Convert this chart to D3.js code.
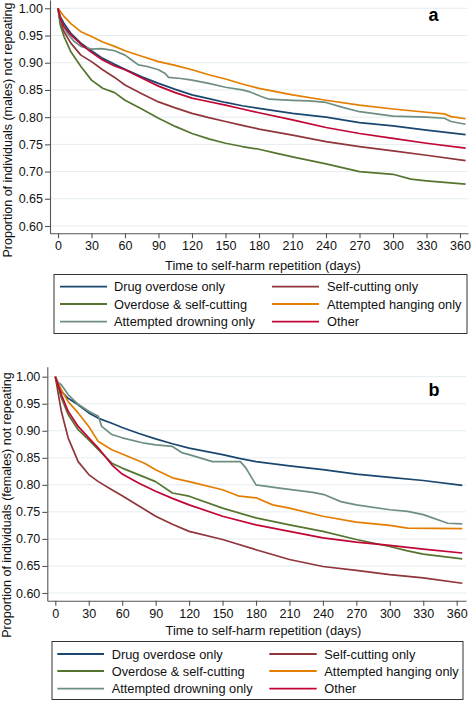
<!DOCTYPE html>
<html><head><meta charset="utf-8">
<script src="https://cdn.jsdelivr.net/npm/d3@7"></script>
<style>
html,body{margin:0;padding:0;background:#fff;}
svg{display:block;font-family:"Liberation Sans",Arial,Helvetica,sans-serif;}
</style></head>
<body>
<svg id="chart" width="471" height="701"></svg>
<script>
// ---------- data ----------
const seriesNames = ["Drug overdose only","Self-cutting only","Overdose & self-cutting","Attempted hanging only","Attempted drowning only","Other"];
const seriesColors = ["#1a476f","#90353b","#55752f","#e37e00","#6e8e84","#c10534"];
const xTicks = [0,30,60,90,120,150,180,210,240,270,300,330,360];
const yTicks = [0.60,0.65,0.70,0.75,0.80,0.85,0.90,0.95,1.00];

// Males (panel a): [day, proportion not repeating]
const maleDrug = [[0,1],[2,0.985],[5.4,0.972],[11.5,0.954],[20.5,0.936],[30,0.922],[40,0.908],[50.7,0.897],[60,0.888],[75,0.874],[90,0.862],[105,0.851],[120,0.841],[135,0.834],[150,0.827],[165,0.821],[180,0.816],[210,0.807],[240,0.800],[270,0.790],[300,0.784],[330,0.776],[365,0.768]];
const maleCut = [[0,1],[2,0.975],[5.4,0.957],[11.5,0.936],[20.5,0.914],[30,0.902],[40,0.887],[50.7,0.873],[60,0.859],[75,0.843],[90,0.828],[105,0.817],[120,0.807],[135,0.799],[150,0.792],[165,0.785],[180,0.778],[210,0.767],[240,0.755],[270,0.746],[300,0.738],[330,0.730],[365,0.720]];
const maleBoth = [[0,1],[2,0.970],[5.4,0.948],[11.5,0.920],[20.5,0.893],[30,0.868],[40,0.853],[50.7,0.845],[60,0.831],[75,0.815],[90,0.798],[105,0.783],[120,0.770],[135,0.760],[150,0.752],[165,0.746],[180,0.741],[195,0.734],[210,0.727],[240,0.714],[270,0.700],[300,0.695],[316,0.686],[330,0.683],[365,0.677]];
const maleHang = [[0,1],[5.4,0.985],[11.5,0.972],[20.5,0.957],[30,0.948],[40,0.938],[50.7,0.930],[60,0.922],[75,0.912],[90,0.902],[105,0.895],[120,0.887],[135,0.878],[150,0.870],[165,0.861],[180,0.853],[195,0.847],[210,0.841],[240,0.831],[270,0.822],[300,0.815],[330,0.809],[346,0.806],[352,0.801],[365,0.797]];
const maleDrown = [[0,1],[3,0.975],[8.4,0.954],[14,0.940],[20.5,0.930],[30,0.925],[38.6,0.926],[45,0.924],[50.7,0.922],[60,0.914],[66,0.905],[72,0.896],[80,0.893],[90,0.887],[96,0.880],[99,0.873],[110,0.871],[120,0.868],[135,0.862],[150,0.855],[165,0.850],[171,0.847],[182,0.838],[189,0.833],[210,0.831],[225,0.830],[240,0.827],[255,0.818],[270,0.810],[285,0.806],[300,0.802],[330,0.800],[346,0.798],[352,0.792],[365,0.787]];
const maleOther = [[0,1],[2,0.982],[5.4,0.966],[11.5,0.951],[20.5,0.934],[30,0.919],[40,0.905],[50.7,0.894],[60,0.887],[75,0.872],[90,0.857],[105,0.845],[120,0.835],[129,0.831],[150,0.822],[165,0.815],[180,0.808],[210,0.795],[240,0.781],[270,0.770],[300,0.761],[330,0.752],[365,0.743]];

// Females (panel b)
const femaleDrug = [[0,1],[5.4,0.973],[11.5,0.960],[20.5,0.948],[30,0.933],[40,0.922],[50.7,0.914],[60,0.906],[75,0.895],[90,0.885],[105,0.876],[120,0.868],[135,0.862],[150,0.856],[165,0.849],[180,0.843],[210,0.835],[240,0.828],[270,0.820],[300,0.814],[330,0.808],[365,0.799]];
const femaleCut = [[0,1],[5.4,0.936],[11.5,0.887],[20.5,0.843],[30,0.819],[38.6,0.806],[50.7,0.791],[60,0.780],[75,0.761],[90,0.742],[105,0.727],[120,0.714],[150,0.699],[180,0.680],[210,0.662],[240,0.649],[270,0.642],[300,0.634],[330,0.628],[365,0.618]];
const femaleBoth = [[0,1],[5.4,0.961],[11.5,0.930],[20.5,0.902],[30,0.883],[38.6,0.865],[50.7,0.840],[60,0.831],[90,0.806],[105,0.785],[120,0.779],[150,0.757],[180,0.739],[210,0.726],[240,0.714],[270,0.699],[300,0.686],[316,0.678],[330,0.672],[365,0.663]];
const femaleHang = [[0,1],[5.4,0.976],[11.5,0.954],[20.5,0.933],[30,0.908],[38.6,0.880],[50.7,0.865],[60,0.857],[80,0.840],[90,0.828],[105,0.813],[120,0.806],[150,0.791],[165,0.779],[180,0.776],[195,0.763],[210,0.757],[240,0.742],[270,0.731],[300,0.725],[316,0.720],[365,0.719]];
const femaleDrown = [[0,1],[2,0.990],[5.4,0.985],[11.5,0.967],[20.5,0.949],[30,0.936],[38.6,0.927],[41.6,0.908],[50.7,0.893],[60,0.887],[80,0.877],[90,0.874],[105,0.871],[114,0.859],[120,0.856],[141,0.843],[166,0.843],[171,0.831],[180,0.800],[201,0.794],[231,0.786],[241,0.782],[256,0.769],[270,0.763],[300,0.754],[316,0.751],[330,0.745],[352,0.729],[365,0.728]];
const femaleOther = [[0,1],[5.4,0.967],[11.5,0.936],[20.5,0.908],[30,0.887],[38.6,0.868],[50.7,0.837],[60,0.820],[75,0.803],[90,0.788],[105,0.775],[120,0.763],[150,0.742],[180,0.726],[210,0.714],[240,0.702],[270,0.694],[300,0.688],[330,0.681],[365,0.674]];

const maleSeries = [maleDrug,maleCut,maleBoth,maleHang,maleDrown,maleOther];
const femaleSeries = [femaleDrug,femaleCut,femaleBoth,femaleHang,femaleDrown,femaleOther];

// ---------- layout ----------
const panels = [
  {series:maleSeries, letter:"a", ytitle:"Proportion of individuals (males) not repeating",
   left:50, right:468, x0:58, x360:460, top:0, bottom:233.3, y1:8.3, y06:226,
   titleX0:263, titleY:270, titleCY:130, titleX:12, letterX:433.5, letterY:21,
   legend:{x:54, y:274.5, w:413, h:59, rows:[286.7,304,321.7], c1:[60,107,114], c2:[272,319,327]}},
  {series:femaleSeries, letter:"b", ytitle:"Proportion of individuals (females) not repeating",
   left:47.3, right:466, x0:55.3, x360:456.7, top:366.7, bottom:600.7, y1:376.7, y06:593,
   titleX0:263.5, titleY:635, titleCY:505, titleX:10.5, letterX:434, letterY:396,
   legend:{x:52, y:641.5, w:411, h:58, rows:[654,671,688.7], c1:[57.3,104,111.7], c2:[269.3,316.7,324.3]}}
];

const svg = d3.select("#chart");

panels.forEach(p => {
  const xs0 = d3.scaleLinear().domain([0,360]).range([p.x0,p.x360]);
  const x = d3.scaleLinear().domain([xs0.invert(p.left), xs0.invert(p.right)]).range([p.left,p.right]);
  const ys0 = d3.scaleLinear().domain([0.6,1]).range([p.y06,p.y1]);
  const y = d3.scaleLinear().domain([ys0.invert(p.bottom), ys0.invert(p.top)]).range([p.bottom,p.top]);

  const g = svg.append("g");

  // gridlines
  g.append("g").selectAll("line").data(yTicks).join("line")
    .attr("x1",p.left).attr("x2",p.right)
    .attr("y1",d=>y(d)).attr("y2",d=>y(d))
    .attr("stroke","#e4edf0").attr("stroke-width",1);

  // curves
  const line = d3.line().x(d=>x(d[0])).y(d=>y(d[1])).curve(d3.curveLinear);
  p.series.forEach((s,i) => {
    g.append("path").datum(s).attr("d",line)
      .attr("fill","none").attr("stroke",seriesColors[i])
      .attr("stroke-width",1.7).attr("stroke-linejoin","round");
  });

  // axes
  const ax = g.append("g").attr("transform",`translate(${p.left},0)`)
    .call(d3.axisLeft(y).tickValues(yTicks).tickFormat(d3.format(".2f")).tickSize(5).tickSizeOuter(0).tickPadding(2));
  const bx = g.append("g").attr("transform",`translate(0,${p.bottom})`)
    .call(d3.axisBottom(x).tickValues(xTicks).tickFormat(d3.format("d")).tickSize(5).tickSizeOuter(0).tickPadding(3));
  [ax,bx].forEach(a => {
    a.selectAll("path,line").attr("stroke","#555").attr("stroke-width",1.1);
    a.selectAll("text").attr("font-size",12.5).attr("fill","#111")
      .attr("font-family",'"Liberation Sans",Arial,Helvetica,sans-serif');
  });

  // axis titles
  g.append("text").attr("x",p.titleX0).attr("y",p.titleY)
    .attr("text-anchor","middle").attr("font-size",12.9).attr("fill","#111")
    .text("Time to self-harm repetition (days)");
  g.append("text").attr("transform",`translate(${p.titleX},${p.titleCY}) rotate(-90)`)
    .attr("text-anchor","middle").attr("font-size",12.5).attr("fill","#111")
    .text(p.ytitle);

  // panel letter
  g.append("text").attr("x",p.letterX).attr("y",p.letterY)
    .attr("text-anchor","middle").attr("font-size",18).attr("font-weight","bold").attr("fill","#000")
    .text(p.letter);

  // legend
  const L = p.legend;
  g.append("rect").attr("x",L.x).attr("y",L.y).attr("width",L.w).attr("height",L.h)
    .attr("fill","#fff").attr("stroke","#333").attr("stroke-width",1);
  seriesNames.forEach((name,i) => {
    const row = Math.floor(i/2), col = i%2;
    const c = col===0 ? L.c1 : L.c2;
    const ry = L.rows[row];
    g.append("line").attr("x1",c[0]).attr("x2",c[1]).attr("y1",ry).attr("y2",ry)
      .attr("stroke",seriesColors[i]).attr("stroke-width",1.8);
    g.append("text").attr("x",c[2]).attr("y",ry+4.5)
      .attr("font-size",12.8).attr("fill","#111").text(name);
  });
});
</script>
</body></html>
